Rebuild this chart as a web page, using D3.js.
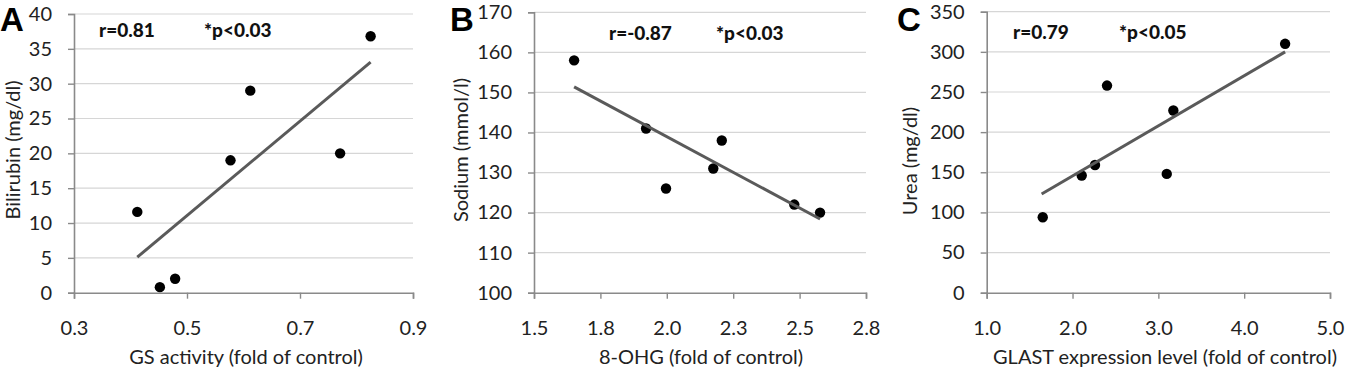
<!DOCTYPE html>
<html><head><meta charset="utf-8">
<script src="https://cdn.jsdelivr.net/npm/d3@7"></script>
<style>body{margin:0;background:#fff}svg{display:block}</style>
</head><body>
<svg id="chart" width="1345" height="378"></svg>
<script>
// ---- Panel A data ----
const aGS = [0.412, 0.452, 0.479, 0.577, 0.612, 0.771, 0.825];
const aBilirubin = [11.6, 0.8, 2.0, 19.0, 29.0, 20.0, 36.8];
const aTrendX = [0.412, 0.825];
const aTrendY = [5.1, 33.1];
const aXTicks = [0.3, 0.5, 0.7, 0.9];
const aXTickLabels = ["0.3", "0.5", "0.7", "0.9"];
const aYTicks = [0, 5, 10, 15, 20, 25, 30, 35, 40];

// ---- Panel B data ----
const bOHG = [1.651, 1.922, 1.997, 2.175, 2.207, 2.480, 2.577];
const bSodium = [158, 141, 126, 131, 138, 122, 120];
const bTrendX = [1.651, 2.577];
const bTrendY = [151.4, 118.4];
const bXTicks = [1.5, 1.75, 2.0, 2.25, 2.5, 2.75];
const bXTickLabels = ["1.5", "1.8", "2.0", "2.3", "2.5", "2.8"];
const bYTicks = [100, 110, 120, 130, 140, 150, 160, 170];

// ---- Panel C data ----
const cGLAST = [1.653, 2.107, 2.262, 2.402, 3.098, 3.175, 4.477];
const cUrea = [94, 146, 159, 258, 148, 227, 310];
const cTrendX = [1.64, 4.477];
const cTrendY = [123, 300];
const cXTicks = [1, 2, 3, 4, 5];
const cXTickLabels = ["1.0", "2.0", "3.0", "4.0", "5.0"];
const cYTicks = [0, 50, 100, 150, 200, 250, 300, 350];

const panels = [
  {letter:"A", x:aGS, y:aBilirubin, tx:aTrendX, ty:aTrendY, xt:aXTicks, xl:aXTickLabels, yt:aYTicks,
   xdom:[0.3,0.9], ydom:[0,40], left:74, right:413, top:14, bottom:292.7,
   xTitle:"GS activity (fold of control)", xTitleX:246, yTitle:"Bilirubin (mg/dl)", yTitleX:13, yTitleY:150,
   r:"r=0.81", rX:99, p:"*p<0.03", pX:204, annY:37, letterX:0},
  {letter:"B", x:bOHG, y:bSodium, tx:bTrendX, ty:bTrendY, xt:bXTicks, xl:bXTickLabels, yt:bYTicks,
   xdom:[1.5,2.75], ydom:[100,170], left:534, right:866, top:12.3, bottom:292.7,
   xTitle:"8-OHG (fold of control)", xTitleX:701, yTitle:"Sodium (mmol/l)", yTitleX:461, yTitleY:150,
   r:"r=-0.87", rX:609, p:"*p<0.03", pX:716, annY:40, letterX:450},
  {letter:"C", x:cGLAST, y:cUrea, tx:cTrendX, ty:cTrendY, xt:cXTicks, xl:cXTickLabels, yt:cYTicks,
   xdom:[1,5], ydom:[0,350], left:986.7, right:1330, top:11.7, bottom:292.7,
   xTitle:"GLAST expression level (fold of control)", xTitleX:1165, yTitle:"Urea (mg/dl)", yTitleX:910, yTitleY:161,
   r:"r=0.79", rX:1013, p:"*p<0.05", pX:1119, annY:39, letterX:897}
];

const svg = d3.select("#chart");
const FONT = "Lato, 'Open Sans', sans-serif";
const AXIS = "#8a8a8a";
const FS = 20;

panels.forEach(p => {
  const xs = d3.scaleLinear().domain(p.xdom).range([p.left, p.right]);
  const ys = d3.scaleLinear().domain(p.ydom).range([p.bottom, p.top]);
  const g = svg.append("g");

  // gridlines
  g.selectAll(".grid").data(p.yt.filter(v => v !== p.ydom[0])).join("line")
    .attr("x1", p.left).attr("x2", p.right)
    .attr("y1", d => ys(d)).attr("y2", d => ys(d))
    .attr("stroke", "#d6d6d6").attr("stroke-width", 1.2);

  // y axis
  const yAx = g.append("g").attr("transform", `translate(${p.left},0)`)
    .call(d3.axisLeft(ys).tickValues(p.yt).tickSize(6).tickPadding(16).tickFormat(d3.format("d")));
  yAx.select(".domain").attr("stroke", AXIS).attr("stroke-width", 1.6);
  yAx.selectAll(".tick line").attr("stroke", AXIS).attr("stroke-width", 1.4);
  yAx.selectAll(".tick text").attr("fill", "#222").style("font-family", FONT).style("font-size", FS + "px");

  // x axis
  const xAx = g.append("g").attr("transform", `translate(0,${p.bottom})`)
    .call(d3.axisBottom(xs).tickValues(p.xt).tickSize(6).tickPadding(22)
      .tickFormat((d, i) => p.xl[i]));
  xAx.select(".domain").attr("stroke", AXIS).attr("stroke-width", 1.6);
  xAx.selectAll(".tick line").attr("stroke", AXIS).attr("stroke-width", 1.4);
  xAx.selectAll(".tick text").attr("fill", "#222").style("font-family", FONT).style("font-size", FS + "px");

  // points
  g.selectAll(".pt").data(p.x.map((v, i) => [v, p.y[i]])).join("circle")
    .attr("cx", d => xs(d[0])).attr("cy", d => ys(d[1])).attr("r", 5.2).attr("fill", "#000");

  // trend line
  g.append("line")
    .attr("x1", xs(p.tx[0])).attr("y1", ys(p.ty[0]))
    .attr("x2", xs(p.tx[1])).attr("y2", ys(p.ty[1]))
    .attr("stroke", "#5a5a5a").attr("stroke-width", 3);

  // annotations
  [[p.r, p.rX], [p.p, p.pX]].forEach(([t, x]) => {
    g.append("text").attr("x", x).attr("y", p.annY).text(t)
      .style("font-family", FONT).style("font-weight", "900").style("font-size", "19px").attr("fill", "#111");
  });

  // axis titles
  g.append("text").attr("x", p.xTitleX).attr("y", 364).attr("text-anchor", "middle").text(p.xTitle)
    .style("font-family", FONT).style("font-size", FS + "px").attr("fill", "#222");
  g.append("text").attr("transform", `translate(${p.yTitleX + 7},${p.yTitleY}) rotate(-90)`)
    .attr("text-anchor", "middle").text(p.yTitle)
    .style("font-family", FONT).style("font-size", FS + "px").attr("fill", "#222");

  // panel letter
  g.append("text").attr("x", p.letterX).attr("y", 31).text(p.letter)
    .style("font-family", "'Liberation Sans', Arial, sans-serif").style("font-weight", "bold")
    .style("font-size", "33px").attr("fill", "#000");
});
</script>
</body></html>
